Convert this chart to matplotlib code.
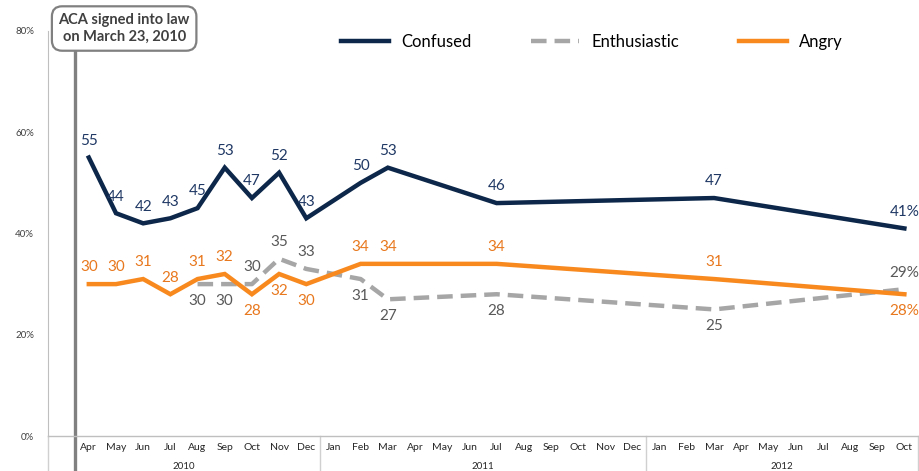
import numpy as np
import matplotlib.pyplot as plt
import matplotlib.transforms as mtransforms

plt.rcParams['font.family'] = ['Lato', 'DejaVu Sans']

# slots: Mar 2010 (index 0) .. Oct 2012 (index 31)
month_labels = [''] + ['Apr', 'May', 'Jun', 'Jul', 'Aug', 'Sep', 'Oct', 'Nov', 'Dec'] + \
    ['Jan', 'Feb', 'Mar', 'Apr', 'May', 'Jun', 'Jul', 'Aug', 'Sep', 'Oct', 'Nov', 'Dec'] + \
    ['Jan', 'Feb', 'Mar', 'Apr', 'May', 'Jun', 'Jul', 'Aug', 'Sep', 'Oct']
years = ['2010', '2011', '2012']
year_spans = [(0, 9), (10, 21), (22, 31)]

confused_x = [1, 2, 3, 4, 5, 6, 7, 8, 9, 11, 12, 16, 24, 31]
confused = [55, 44, 42, 43, 45, 53, 47, 52, 43, 50, 53, 46, 47, 41]

angry_x = [1, 2, 3, 4, 5, 6, 7, 8, 9, 11, 12, 16, 24, 31]
angry = [30, 30, 31, 28, 31, 32, 28, 32, 30, 34, 34, 34, 31, 28]

enth_x = [5, 6, 7, 8, 9, 11, 12, 16, 24, 31]
enth = [30, 30, 30, 35, 33, 31, 27, 28, 25, 29]

# label placement: +1 above, -1 below
confused_pos = [1] * 14
angry_pos = [1, 1, 1, 1, 1, 1, -1, -1, -1, 1, 1, 1, 1, -1]
enth_pos = [-1, -1, 1, 1, 1, -1, -1, -1, -1, 1]

navy = '#0c2749'
orange = '#f7891f'
grey = '#a6a6a6'

fig = plt.figure(figsize=(9.2, 4.71), dpi=100)
ax = fig.add_axes([0.0522, 0.0743, 0.9456, 0.86])

ax.plot(confused_x, confused, color=navy, lw=3.2, solid_joinstyle='miter', zorder=4, label='Confused')
ax.plot(enth_x, enth, color=grey, lw=3.2, dashes=(3.5, 1.8), zorder=3, label='Enthusiastic')
ax.plot(angry_x, angry, color=orange, lw=3.2, solid_joinstyle='miter', zorder=3.5, label='Angry')


def add_labels(xs, vals, pos, color, last_pct=True):
    for i, (x, v, p) in enumerate(zip(xs, vals, pos)):
        txt = f'{v}%' if (last_pct and i == len(xs) - 1) else str(v)
        off = 12 if p > 0 else -12
        ax.annotate(txt, (x, v), xytext=(0, off), textcoords='offset points',
                    ha='center', va='center', fontsize=11, color=color,
                    annotation_clip=False, zorder=6)


add_labels(confused_x, confused, confused_pos, '#1f3864')
add_labels(angry_x, angry, angry_pos, '#e8781e')
add_labels(enth_x, enth, enth_pos, '#595959')

ax.set_xlim(-0.5, 31.5)
ax.set_ylim(0, 80)
ax.set_yticks([0, 20, 40, 60, 80])
ax.set_yticklabels(['0%', '20%', '40%', '60%', '80%'], fontsize=7, color='#404040')
ax.set_xticks(range(32))
ax.set_xticklabels(month_labels, fontsize=7.5, color='#262626')
ax.tick_params(length=0, pad=5)
ax.tick_params(axis='y', pad=10)

for s in ['top', 'right']:
    ax.spines[s].set_visible(False)
ax.spines['left'].set_color('#bfbfbf')
ax.spines['bottom'].set_color('#bfbfbf')
ax.spines['bottom'].set_linewidth(1.0)

# year category boxes
trans = mtransforms.blended_transform_factory(ax.transData, ax.transAxes)
for (a, b), yr in zip(year_spans, years):
    ax.plot([a - 0.5, a - 0.5], [0, -0.1], transform=trans, color='#d0d0d0', lw=1, clip_on=False)
    ax.text((a + b) / 2, -0.075, yr, transform=trans, ha='center', va='center',
            fontsize=7, color='#262626')
ax.plot([31.5, 31.5], [0, -0.1], transform=trans, color='#d0d0d0', lw=1, clip_on=False)

# ACA signing marker
ax.plot([0.5, 0.5], [-0.12, 0.95], transform=trans, color='#808080', lw=2.4, clip_on=False, zorder=2)
ax.text(2.3, 1.006, 'ACA signed into law\non March 23, 2010', transform=trans,
        ha='center', va='center', fontsize=10.5, fontweight='bold', color='#404040',
        linespacing=1.3,
        bbox=dict(boxstyle='round,pad=0.45,rounding_size=0.7', fc='white', ec='#808080', lw=1.6))

ax.legend(loc='upper center', bbox_to_anchor=(0.625, 1.03), ncol=3, frameon=False,
          fontsize=12, handlelength=2.9, columnspacing=3.6, handletextpad=0.7)

fig.savefig('out.png', dpi=100)
